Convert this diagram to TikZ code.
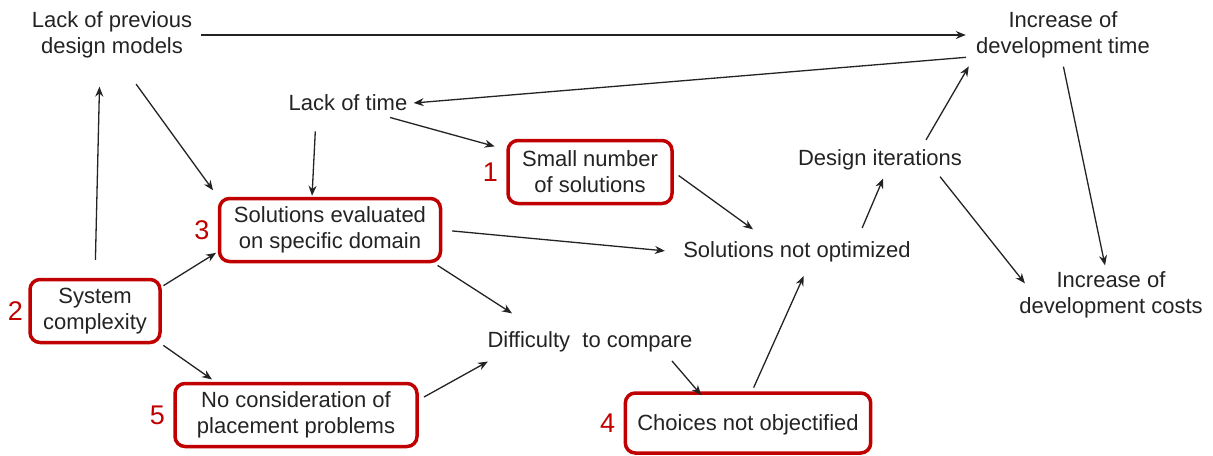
\documentclass[tikz,border=0pt]{standalone}
\usepackage{fontspec}
\setmainfont{Liberation Sans}
\usetikzlibrary{arrows.meta,positioning}
\definecolor{boxred}{RGB}{192,0,0}
\definecolor{ink}{RGB}{35,35,35}
\tikzset{
  every node/.style={font=\fontsize{11}{13}\selectfont, text=ink, align=center},
  cause/.style={inner sep=3pt},
  redbox/.style={draw=boxred, line width=1.75pt, rounded corners=5pt, minimum height=31.5pt, inner xsep=6pt},
  num/.style={text=boxred, font=\fontsize{13.5}{15}\selectfont, inner sep=1pt},
  link/.style={draw=ink, line width=0.65pt, -{Stealth[length=5pt,width=4pt]}},
}
\begin{document}
\begin{tikzpicture}[x=0.5pt,y=-0.5pt]
    \useasboundingbox (0,0) rectangle (1213,455);
    % causes
    \node[cause] (prev) at (112,35) {Lack of previous\\design models};
    \node[cause] (inctime) at (1063,35) {Increase of\\development time};
    \node[cause] (lacktime) at (348,103) {Lack of time};
    \node[redbox, minimum width=82pt] (smallnum) at (590,172) {Small number\\of solutions};
    \node[cause] (desiter) at (880,160) {Design iterations};
    \node[redbox, minimum width=110.5pt] (evald) at (330,230) {Solutions evaluated\\on specific domain};
    \node[cause] (notopt) at (797,252) {Solutions not optimized};
    \node[cause] (costs) at (1111,295) {Increase of\\development costs};
    \node[redbox, minimum width=65pt] (syscx) at (95,311) {System\\complexity};
    \node[cause] (diff) at (590,342) {Difficulty\ \ to compare};
    \node[redbox, minimum width=121pt] (nocons) at (296,415) {No consideration of\\placement problems};
    \node[redbox, minimum width=121.5pt, minimum height=30pt, text depth=0pt] (choices) at (748,423) {Choices not objectified};
    % numbers
    \node[num, left=3pt of smallnum] (n1) {1};
    \node[num, left=1.5pt of syscx] (n2) {2};
    \node[num, left=3pt of evald] (n3) {3};
    \node[num, left=3pt of choices] (n4) {4};
    \node[num, left=3pt of nocons] (n5) {5};
    % links
    \draw[link, shorten <=1pt, shorten >=2pt] (prev.east) -- (inctime.west);
    \draw[link, shorten <=2pt] ([yshift=-11pt]inctime.west) -- (lacktime.east);
    \draw[link, shorten <=12pt, shorten >=4pt] ([xshift=5pt]prev.south) -- (evald.north west);
    \draw[link, shorten <=9pt, shorten >=11pt] (syscx.north) -- ([xshift=-6pt]prev.south);
    \draw[link, shorten <=1pt, shorten >=1pt] (syscx.20) -- (evald.191);
    \draw[link, shorten <=1pt, shorten >=2pt] (syscx.south east) -- ([xshift=21pt]nocons.north west);
    \draw[link, shorten <=7pt, shorten >=0.5pt] ([xshift=-16pt]lacktime.south) -- ([xshift=-9pt]evald.north);
    \draw[link, shorten >=6pt] ([xshift=21pt]lacktime.south) -- (smallnum.165);
    \draw[link, shorten <=3pt] (smallnum.east) -- ([xshift=-22pt,yshift=3pt]notopt.north);
    \draw[link, shorten <=5pt, shorten >=6pt] (evald.east) -- (notopt.west);
    \draw[link, shorten <=2pt] ([xshift=-4pt]evald.south east) -- ([xshift=-39pt,yshift=6pt]diff.north);
    \draw[link, shorten <=3pt, shorten >=3pt] (nocons.7) -- ([xshift=6pt]diff.south west);
    \draw[link, shorten <=1.5pt, shorten >=-2.5pt] ([xshift=40pt]diff.south) -- ([xshift=-25pt]choices.north);
    \draw[link, shorten <=2pt, shorten >=4pt] ([xshift=2pt]choices.north) -- ([xshift=5pt]notopt.south);
    \draw[link, shorten <=4pt, shorten >=1pt] ([xshift=31pt]notopt.north) -- ([xshift=2pt]desiter.south);
    \draw[link, shorten <=2pt, shorten >=1pt] ([xshift=22pt]desiter.north) -- (inctime.south west);
    \draw[link] ([xshift=30pt]desiter.south) -- ([xshift=6pt,yshift=-9pt]costs.north west);
    \draw[link, shorten <=1pt] (inctime.south) -- ([xshift=-3pt]costs.north);
\end{tikzpicture}
\end{document}
